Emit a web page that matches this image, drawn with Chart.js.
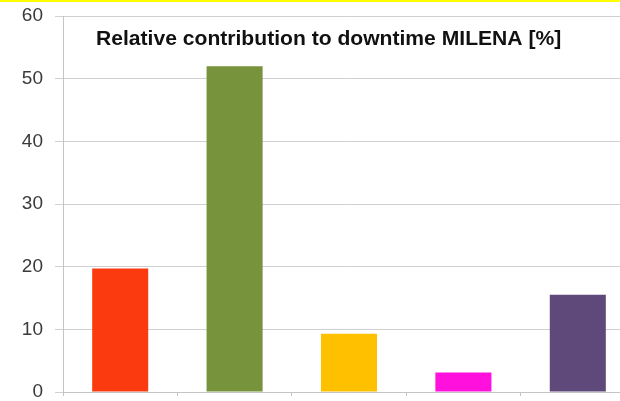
<!DOCTYPE html>
<html>
<head>
<meta charset="utf-8">
<script src="https://cdn.jsdelivr.net/npm/chart.js@4"></script>
<style>
    html, body { margin: 0; padding: 0; background: #fff; overflow: hidden; }
    .topline { position: absolute; left: 0; top: 0; width: 620px; height: 2px; background: #ffff00; z-index: 2; }
    .chart_container { position: absolute; left: 0; top: 0; width: 640px; height: 401px; }
</style>
</head>
<body>
<div class="topline"></div>
<div class="chart_container"><canvas id="myChart" width="640" height="401"></canvas></div>
<script>
// data
const categories = ['Cause 1', 'Cause 2', 'Cause 3', 'Cause 4', 'Cause 5'];
const downtimeShare = [19.7, 52, 9.3, 3.1, 15.5];
const barColors = ['#fc3a10', '#77933c', '#ffc000', '#ff10dc', '#5f497a'];
const chartTitle = 'Relative contribution to downtime MILENA [%]';

let gridColor = '#d0d0d0', axisColor = '#c4c4c4';

// title sits inside the plot area, like in the spreadsheet chart
const innerTitle = {
    id: 'innerTitle',
    afterDraw(chart) {
        const ctx = chart.ctx, area = chart.chartArea;
        ctx.save();
        ctx.font = 'bold 20px "Liberation Sans Narrow", "Liberation Sans", Arial, sans-serif';
        let size = 20 * 466 / ctx.measureText(chartTitle).width;
        ctx.font = 'bold ' + size.toFixed(1) + 'px "Liberation Sans Narrow", "Liberation Sans", Arial, sans-serif';
        ctx.fillStyle = '#111';
        ctx.textAlign = 'left';
        ctx.textBaseline = 'alphabetic';
        ctx.fillText(chartTitle, area.left + 33, area.top + 29);
        ctx.restore();
    }
};

const data = {
    labels: categories,
    datasets: [{
        label: chartTitle,
        data: downtimeShare,
        backgroundColor: barColors,
        borderWidth: 0,
        categoryPercentage: 1,
        barPercentage: 0.49
    }]
};

const config = {
    type: 'bar',
    data,
    options: {
        responsive: false,
        animation: false,
        devicePixelRatio: 1,
        layout: { padding: { top: 16, right: 5, left: 0, bottom: 0 } },
        plugins: {
            legend: { display: false },
            title: { display: false },
            tooltip: { enabled: false }
        },
        scales: {
            x: {
                offset: true,
                ticks: { display: false },
                grid: { display: true, drawOnChartArea: false, color: axisColor, tickLength: 4, offset: true },
                border: { display: true, color: axisColor, width: 1 },
                afterFit: (scale) => { scale.height = 9; }
            },
            y: {
                min: 0,
                max: 60,
                ticks: {
                    stepSize: 10,
                    padding: 12,
                    color: '#3a3a3a',
                    font: { family: '"Liberation Sans", Arial, sans-serif', size: 19 }
                },
                grid: { color: gridColor, tickLength: 8, tickColor: gridColor },
                border: { display: true, color: axisColor, width: 1 },
                afterFit: (scale) => {
                    scale.width = 63;
                    scale.paddingTop = 0;
                    scale.paddingBottom = 0;
                }
            }
        }
    },
    plugins: [innerTitle]
};

const myChart = new Chart(document.getElementById('myChart'), config);
</script>
</body>
</html>
